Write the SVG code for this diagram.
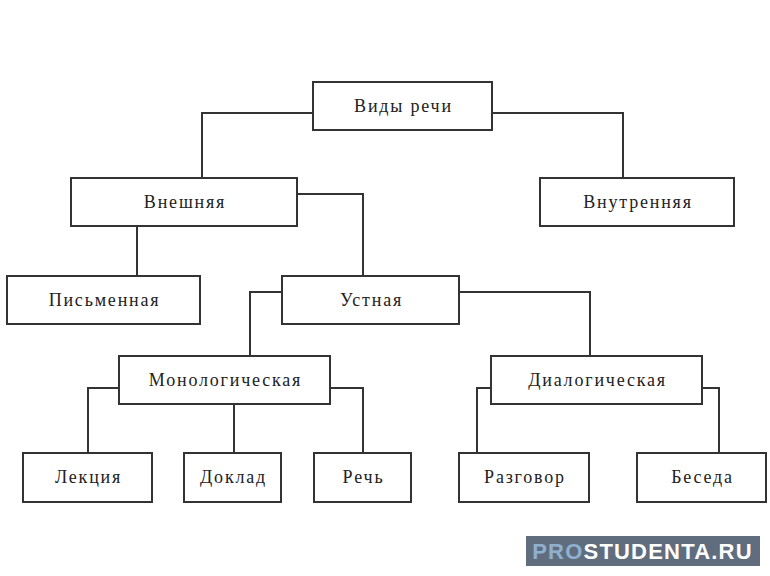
<svg xmlns="http://www.w3.org/2000/svg" width="770" height="576" viewBox="0 0 770 576">
<style>
.box{fill:#fff;stroke:#333;stroke-width:2}
.lbl{font-family:"Liberation Serif","Times New Roman",serif;font-size:18px;fill:#222;text-anchor:middle;letter-spacing:1.8px}
.con{fill:none;stroke:#333;stroke-width:2}
</style>
<rect width="770" height="576" fill="#fff"/>
<g id="connectors">
<polyline class="con" points="313,113 202,113 202,178"/>
<polyline class="con" points="492,113 623,113 623,178"/>
<polyline class="con" points="137,226 137,276"/>
<polyline class="con" points="297,194 363,194 363,276"/>
<polyline class="con" points="282,292 250,292 250,356"/>
<polyline class="con" points="459,292 590,292 590,356"/>
<polyline class="con" points="119,388 88,388 88,453"/>
<polyline class="con" points="234,404 234,453"/>
<polyline class="con" points="330,388 363,388 363,453"/>
<polyline class="con" points="491,388 477,388 477,453"/>
<polyline class="con" points="702,388 719,388 719,453"/>
</g>
<g id="n-vidy"><rect class="box" x="313" y="82" width="179" height="48"/><text class="lbl" x="403.5" y="112">Виды речи</text></g>
<g id="n-vneshnyaya"><rect class="box" x="71" y="178" width="226" height="48"/><text class="lbl" x="185" y="208">Внешняя</text></g>
<g id="n-vnutrennyaya"><rect class="box" x="540" y="178" width="194" height="48"/><text class="lbl" x="638" y="208">Внутренняя</text></g>
<g id="n-pismennaya"><rect class="box" x="7" y="276" width="193" height="48"/><text class="lbl" x="104.5" y="306">Письменная</text></g>
<g id="n-ustnaya"><rect class="box" x="282" y="276" width="177" height="48"/><text class="lbl" x="371.5" y="306">Устная</text></g>
<g id="n-monolog"><rect class="box" x="119" y="356" width="211" height="48"/><text class="lbl" x="225.5" y="386">Монологическая</text></g>
<g id="n-dialog"><rect class="box" x="491" y="356" width="211" height="48"/><text class="lbl" x="597.5" y="386">Диалогическая</text></g>
<g id="n-lekciya"><rect class="box" x="23" y="453" width="129" height="49"/><text class="lbl" x="88.5" y="483">Лекция</text></g>
<g id="n-doklad"><rect class="box" x="184" y="453" width="97" height="49"/><text class="lbl" x="233.5" y="483">Доклад</text></g>
<g id="n-rech"><rect class="box" x="314" y="453" width="97" height="49"/><text class="lbl" x="363.5" y="483">Речь</text></g>
<g id="n-razgovor"><rect class="box" x="459" y="453" width="130" height="49"/><text class="lbl" x="525" y="483">Разговор</text></g>
<g id="n-beseda"><rect class="box" x="637" y="453" width="129" height="49"/><text class="lbl" x="702.5" y="483">Беседа</text></g>
<g id="watermark">
<rect x="526" y="536" width="234" height="30" fill="#5f6d7e"/>
<text x="642.5" y="559" font-family="'Liberation Sans',Arial,sans-serif" font-size="22" font-weight="bold" text-anchor="middle" letter-spacing="1.2"><tspan fill="#8fb0cf">PRO</tspan><tspan fill="#fff">STUDENTA.RU</tspan></text>
</g>
</svg>
